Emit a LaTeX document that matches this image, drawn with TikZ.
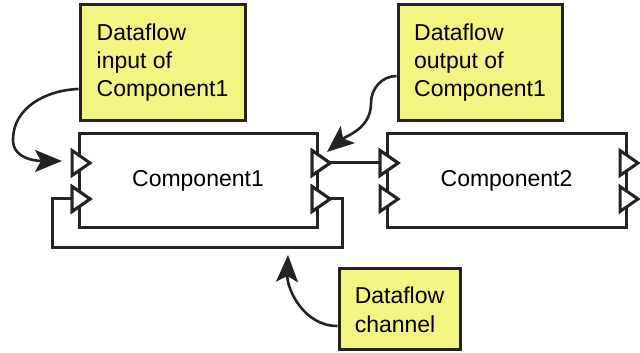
\documentclass[tikz,border=0pt]{standalone}
\usepackage{fontspec}
\setmainfont{Liberation Sans}
\usetikzlibrary{arrows.meta}
\definecolor{ink}{RGB}{38,34,35}
\definecolor{notey}{RGB}{243,245,130}
\tikzset{
  comp/.style={draw=ink, line width=3pt, fill=white, minimum width=238pt, minimum height=94pt, inner sep=0pt,
    font=\fontsize{23}{28}\selectfont},
  note/.style={draw=ink, line width=3pt, fill=notey, align=left, inner sep=0pt,
    font=\fontsize{23}{28}\selectfont},
  wire/.style={draw=ink, line width=3pt},
  callout/.style={draw=ink, line width=2.6pt, -{Stealth[length=27pt,width=22pt,inset=6pt]}},
  portshape/.style={draw=ink, line width=3pt, fill=white, line join=miter},
  port/.pic={
    \coordinate (-base) at (0,0);
    \coordinate (-tip) at (18,0);
    \path[portshape] (0,12.5) -- (18,0) -- (0,-12.5) -- cycle;
  }
}
\begin{document}
\begin{tikzpicture}[x=1pt,y=1pt]
\useasboundingbox (0,0) rectangle (640,353);
% components
\node[comp] (c1) at (198,172) {Component1};
\node[comp, minimum width=239pt] (c2) at (506.5,172) {Component2};
% ports
\pic (c1i1) at (72,190) {port};
\pic (c1i2) at (72,154) {port};
\pic (c1o1) at (312,190) {port};
\pic (c1o2) at (312,154) {port};
\pic (c2i1) at (380,190) {port};
\pic (c2i2) at (380,154) {port};
\pic (c2o1) at (620,190) {port};
\pic (c2o2) at (620,154) {port};
% connectors
\draw[wire] (c1o1-tip) -- (c2i1-base);
\draw[wire] (c1o2-tip) -| (342,105) -| (52,154) -- (c1i2-base);
% redraw ports on top
\path[portshape] (72,166.5) -- (90,154) -- (72,141.5) -- cycle;
\path[portshape] (312,166.5) -- (330,154) -- (312,141.5) -- cycle;
\path[portshape] (380,202.5) -- (398,190) -- (380,177.5) -- cycle;
\path[portshape] (312,202.5) -- (330,190) -- (312,177.5) -- cycle;
% notes
\node[note, minimum width=165pt, minimum height=116pt] (n1) at (162.5,290) {Dataflow\\input of\\Component1};
\node[note, minimum width=164pt, minimum height=116pt] (n2) at (480,290) {Dataflow\\output of\\Component1};
\node[note, minimum width=121pt, minimum height=81pt, font=\fontsize{23}{29}\selectfont] (n3) at (399.5,43.5) {Dataflow\\channel};
% callout arrows
\coordinate (t1) at (62,192);
\coordinate (t2) at (327,201);
\coordinate (t3) at (288,98);
\draw[callout] ([yshift=-26pt]n1.west) to[out=182,in=90] (13,213) to[out=-90,in=180] (t1);
\draw[callout] ([yshift=-13pt]n2.west) to[out=180,in=90] (371,250) to[out=-90,in=40] (t2);
\draw[callout] ([yshift=-16.5pt]n3.west) to[out=180,in=-92] (t3);
\end{tikzpicture}
\end{document}
